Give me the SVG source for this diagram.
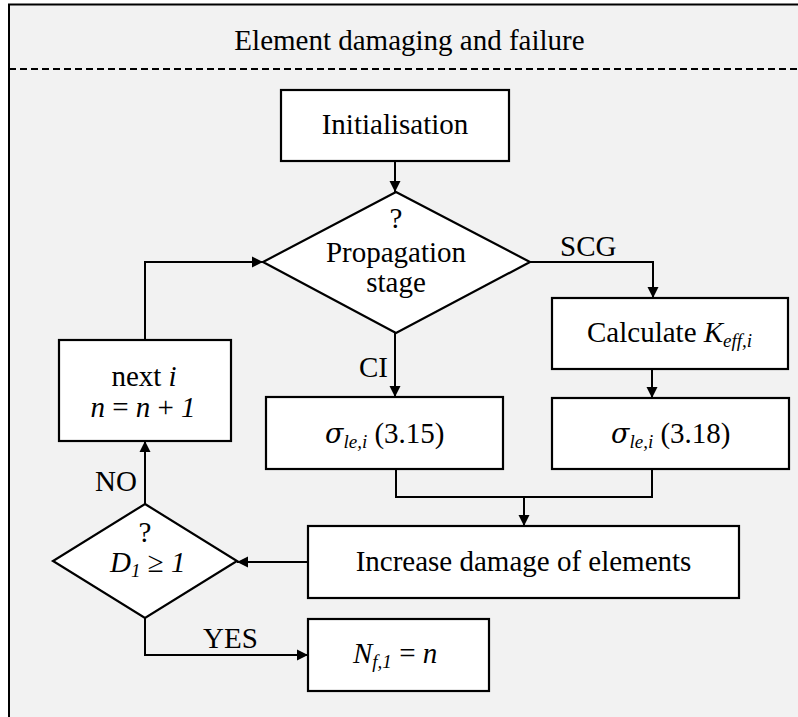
<svg xmlns="http://www.w3.org/2000/svg" width="798" height="717" viewBox="0 0 798 717">
  <style>
    .frame { fill: #f2f2f2; stroke: #000; stroke-width: 2; }
    .sep { fill: none; stroke: #000; stroke-width: 2; stroke-dasharray: 7 4; }
    .box { fill: #fff; stroke: #000; stroke-width: 2.2; }
    .wire { fill: none; stroke: #000; stroke-width: 2; }
    text { font-family: "Liberation Serif", "Times New Roman", serif; font-size: 29px; fill: #000; }
    .c { text-anchor: middle; }
    .it { font-style: italic; }
    .sub { font-style: italic; font-size: 19px; }
    .sym { font-family: "DejaVu Serif", "Liberation Serif", serif; font-style: italic; font-size: 27px; }
  </style>
  <defs>
    <marker id="arrow" markerUnits="userSpaceOnUse" markerWidth="12" markerHeight="12" viewBox="0 0 12 12" refX="11" refY="6" orient="auto">
      <path d="M0,0.5 L11,6 L0,11.5 z" fill="#000"/>
    </marker>
  </defs>

  <rect width="798" height="717" fill="#fff"/>

  <!-- outer frame and heading -->
  <g id="frame">
    <rect class="frame" x="9" y="4.5" width="810" height="730"/>
    <text class="c" x="409.5" y="50">Element damaging and failure</text>
    <line class="sep" x1="9" y1="69" x2="798" y2="69"/>
  </g>

  <!-- connectors -->
  <g id="connectors">
    <path class="wire" d="M395,161 L395,192" marker-end="url(#arrow)"/>
    <path class="wire" d="M530,262 L653,262 L653,298" marker-end="url(#arrow)"/>
    <path class="wire" d="M652,369 L652,398" marker-end="url(#arrow)"/>
    <path class="wire" d="M395,333 L395,397" marker-end="url(#arrow)"/>
    <path class="wire" d="M396,469 L396,497 L652,497 L652,469"/>
    <path class="wire" d="M524,497 L524,526" marker-end="url(#arrow)"/>
    <path class="wire" d="M308,562 L237,562" marker-end="url(#arrow)"/>
    <path class="wire" d="M145,504 L145,441" marker-end="url(#arrow)"/>
    <path class="wire" d="M145,340 L145,262 L263,262" marker-end="url(#arrow)"/>
    <path class="wire" d="M145,618 L145,655 L308,655" marker-end="url(#arrow)"/>
    <text x="560" y="256">SCG</text>
    <text x="359" y="377">CI</text>
    <text x="95" y="491">NO</text>
    <text x="203" y="648">YES</text>
  </g>

  <g id="init">
    <rect class="box" x="281" y="90" width="228" height="71"/>
    <text class="c" x="395" y="134">Initialisation</text>
  </g>

  <g id="stage">
    <polygon class="box" points="396,192 530,262 396,333 263,262"/>
    <text class="c" x="396" y="228">?</text>
    <text class="c" x="396" y="262">Propagation</text>
    <text class="c" x="396" y="292">stage</text>
  </g>

  <g id="keff">
    <rect class="box" x="552" y="298" width="236" height="71"/>
    <text x="587" y="342">Calculate <tspan class="it">K</tspan><tspan class="sub" dy="5">eff,i</tspan></text>
  </g>

  <g id="sigma-ci">
    <rect class="box" x="266" y="397" width="237" height="72"/>
    <text x="325" y="443"><tspan class="sym">σ</tspan><tspan class="sub" dy="5">le,i</tspan><tspan dy="-5"> (3.15)</tspan></text>
  </g>

  <g id="sigma-scg">
    <rect class="box" x="552" y="398" width="237" height="71"/>
    <text x="611" y="443"><tspan class="sym">σ</tspan><tspan class="sub" dy="5">le,i</tspan><tspan dy="-5"> (3.18)</tspan></text>
  </g>

  <g id="damage">
    <rect class="box" x="308" y="526" width="431" height="72"/>
    <text class="c" x="523.5" y="571">Increase damage of elements</text>
  </g>

  <g id="next">
    <rect class="box" x="59" y="340" width="172" height="101"/>
    <text class="c" x="144" y="386">next <tspan class="it">i</tspan></text>
    <text class="c" x="143" y="417"><tspan class="it">n</tspan> = <tspan class="it">n</tspan> + <tspan class="it">1</tspan></text>
  </g>

  <g id="check">
    <polygon class="box" points="145,504 237,561 145,618 53,561"/>
    <text class="c" x="145" y="542">?</text>
    <text x="110" y="572"><tspan class="it">D</tspan><tspan class="sub" dy="5">1</tspan><tspan dy="-5"> ≥ </tspan><tspan class="it">1</tspan></text>
  </g>

  <g id="result">
    <rect class="box" x="308" y="619" width="181" height="72"/>
    <text x="353" y="663"><tspan class="it">N</tspan><tspan class="sub" dy="5">f,1</tspan><tspan dy="-5"> = </tspan><tspan class="it">n</tspan></text>
  </g>
</svg>
